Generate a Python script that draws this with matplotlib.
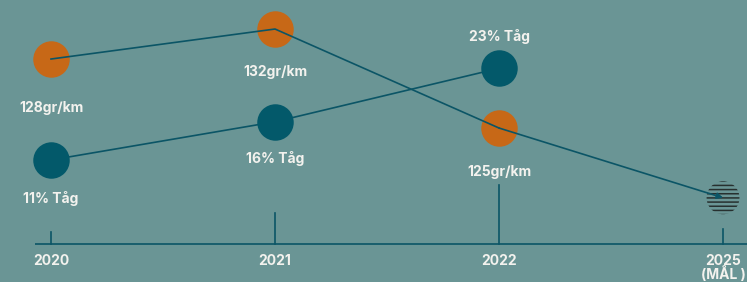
import matplotlib
matplotlib.use("Agg")
import matplotlib.pyplot as plt

# data
years = ["2020", "2021", "2022", "2025\n(MÅL )"]
share_values = [11, 16, 23]                 # % tåg
share_labels = ["11% Tåg", "16% Tåg", "23% Tåg"]
co2_values = [128, 132, 118.8]              # drawn heights (gr/km scale)
co2_labels = ["128gr/km", "132gr/km", "125gr/km"]
co2_target = 109.5                          # 2025 goal mark

BG = "#6a9595"
DARK = "#03596a"
ORANGE = "#c76817"
TEXT = "#f3f2ee"
LINE = "#0b5566"

plt.rcParams["font.family"] = ["Inter", "DejaVu Sans"]
plt.rcParams["hatch.linewidth"] = 1.1

fig = plt.figure(figsize=(7.47, 2.82), dpi=100, facecolor=BG)
ax = fig.add_axes([0, 0, 1, 1])
ax.set_xlim(-0.2277, 3.107)
ax.set_ylim(-4.97, 31.94)
ax.axis("off")

ax2 = ax.twinx()
ax2.set_ylim(98.27, 135.87)
ax2.axis("off")

x = list(range(len(years)))

# baseline + ticks
ax.plot([-0.072, 3.2], [0, 0], color=LINE, lw=1.2, solid_capstyle="butt")
tick_tops = [1.6, 4.1, 7.7, 2.0]
for xi, top in zip(x, tick_tops):
    ax.plot([xi, xi], [0, top], color=LINE, lw=1.2)
for xi, yr in zip(x, years):
    ax.annotate(yr, (xi, 0), xytext=(0, -10), textcoords="offset pixels",
                ha="center", va="top", color=TEXT, fontsize=10,
                fontweight="bold", linespacing=0.82)

# share of train series
ax.plot(x[:3], share_values, color=LINE, lw=1.2, zorder=2)
ax.scatter(x[:3], share_values, s=690, color=DARK, zorder=3, linewidths=0)
share_off = [-39, -37, 32]
for xi, v, lab, off in zip(x, share_values, share_labels, share_off):
    ax.annotate(lab, (xi, v), xytext=(0, off), textcoords="offset pixels",
                ha="center", va="center", color=TEXT, fontsize=10,
                fontweight="bold")

# CO2 series
ax2.scatter(x[:3], co2_values, s=690, color=ORANGE, zorder=2, linewidths=0)
ax2.plot(x[:3], co2_values, color=LINE, lw=1.2, zorder=3)
ax2.scatter([x[3]], [co2_target], s=560, facecolors="none", edgecolors="#27302f",
            linewidths=0, hatch="----", zorder=2)
ax2.annotate("", xy=(x[3], co2_target), xytext=(x[2], co2_values[2]),
             arrowprops=dict(arrowstyle="-|>", color=LINE, lw=1.2,
                             mutation_scale=9, shrinkA=0, shrinkB=0), zorder=3)
co2_off = [-49, -43, -44]
for xi, v, lab, off in zip(x, co2_values, co2_labels, co2_off):
    ax2.annotate(lab, (xi, v), xytext=(0, off), textcoords="offset pixels",
                 ha="center", va="center", color=TEXT, fontsize=10,
                 fontweight="bold")

fig.savefig("out.png", dpi=100, facecolor=BG)
